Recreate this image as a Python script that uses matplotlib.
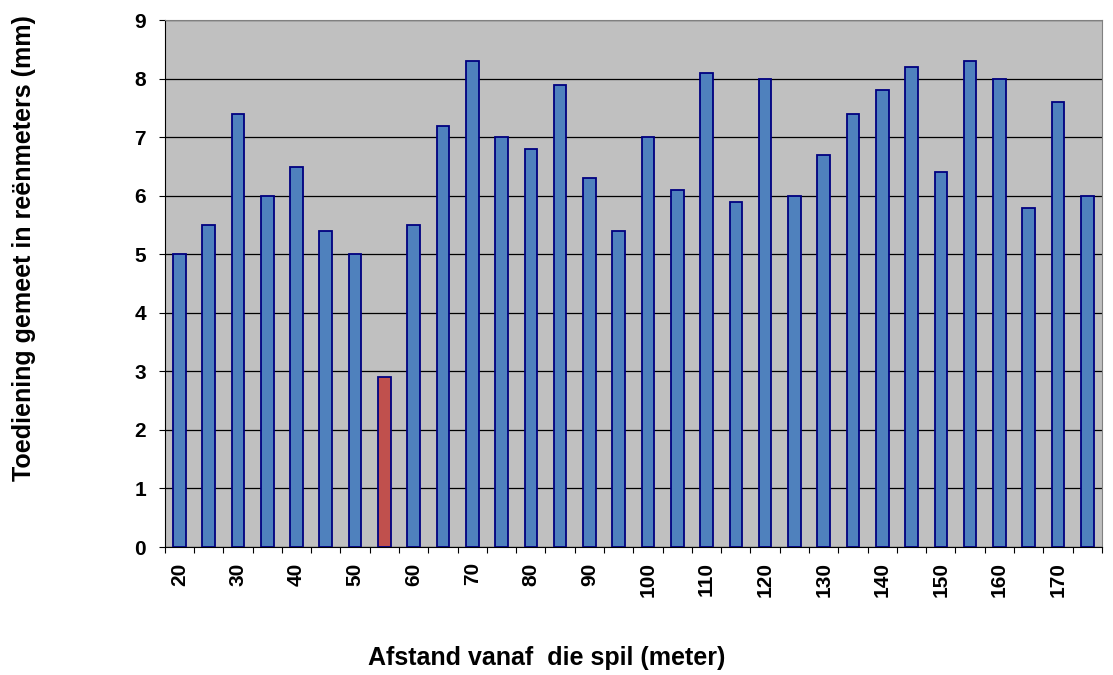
import numpy as np
import matplotlib.pyplot as plt

plt.rcParams['font.family'] = ['Liberation Sans', 'DejaVu Sans']

afstand = list(range(20, 180, 5))  # meter
toediening = [5.0, 5.5, 7.4, 6.0, 6.5, 5.4, 5.0, 2.9, 5.5, 7.2, 8.3, 7.0,
              6.8, 7.9, 6.3, 5.4, 7.0, 6.1, 8.1, 5.9, 8.0, 6.0, 6.7, 7.4,
              7.8, 8.2, 6.4, 8.3, 8.0, 5.8, 7.6, 6.0]
uitskieter = 55  # the low reading, drawn in red

x = np.arange(len(afstand))
kleure = ['#C0504D' if a == uitskieter else '#4F81BD' for a in afstand]

fig = plt.figure(figsize=(11.13, 6.75), dpi=100)
ax = fig.add_axes([0.148, 0.1896, 0.842, 0.7804])
ax.set_facecolor('#C0C0C0')

ax.bar(x, toediening, width=0.43, color=kleure, edgecolor='#000080', linewidth=1.3, zorder=3)

ax.set_xlim(-0.5, len(x) - 0.5)
ax.set_ylim(0, 9)
ax.set_yticks(range(0, 10))
ax.yaxis.grid(True, color='black', linewidth=0.9, zorder=1)

# tick marks between categories, labels on every second category
ax.set_xticks(np.arange(-0.5, len(x), 1.0))
ax.set_xticklabels([])
ax.set_xticks(x[::2], minor=True)
ax.set_xticklabels([str(a) for a in afstand[::2]], minor=True, rotation=90,
                   fontsize=15, fontweight='bold')
ax.tick_params(axis='x', which='minor', length=0, pad=11)
ax.tick_params(axis='x', which='major', length=4.5, color='black')
ax.tick_params(axis='y', length=4.5, labelsize=15, pad=9)
for t in ax.get_yticklabels():
    t.set_fontweight('bold')

for s in ['top', 'right']:
    ax.spines[s].set_color('#808080')
ax.spines['left'].set_color('black')
ax.spines['bottom'].set_color('black')

fig.text(0.0216, 0.633, 'Toediening gemeet in reënmeters (mm)', rotation=90,
         ha='center', va='center', fontsize=18, fontweight='bold')
fig.text(0.4915, 0.025, 'Afstand vanaf  die spil (meter)', ha='center', va='center',
         fontsize=18, fontweight='bold')

fig.savefig('out.png', dpi=100)
